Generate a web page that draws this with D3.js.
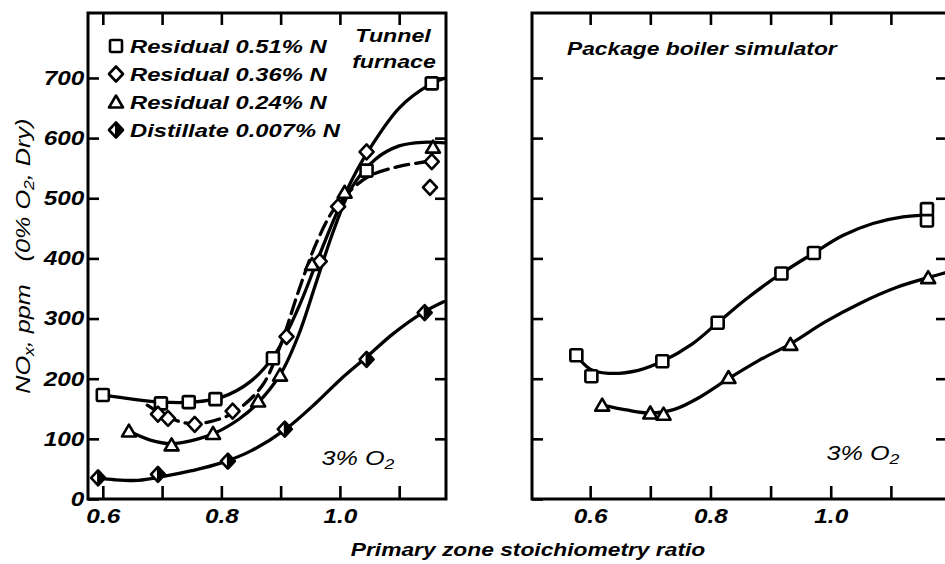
<!DOCTYPE html>
<html>
<head>
<meta charset="utf-8">
<script src="https://cdn.jsdelivr.net/npm/d3@7"></script>
<style>
  body { margin: 0; background: #fff; }
  svg text { font-family: "Liberation Sans", Arial, sans-serif; font-style: italic; fill: #000; }
</style>
</head>
<body>
<svg id="chart" width="945" height="564"></svg>
<script>
// ---- data ----
const xTicks = [0.6, 0.7, 0.8, 0.9, 1.0, 1.1];
const xTickLabels = ["0.6", "", "0.8", "", "1.0", ""];
const yTicks = [0, 100, 200, 300, 400, 500, 600, 700];

const legendLabels = ["Residual 0.51% N", "Residual 0.36% N", "Residual 0.24% N", "Distillate 0.007% N"];
const legendTypes = ["square", "diamond", "triangle", "half"];

// tunnel furnace (left) measured points
const tfSquare = [[0.60, 173], [0.698, 159], [0.745, 161], [0.79, 166], [0.887, 234], [1.045, 546], [1.155, 691]];
const tfDiamond = [[0.693, 141], [0.71, 134], [0.755, 124], [0.819, 146], [0.91, 270], [0.966, 395], [0.997, 486], [1.045, 577], [1.152, 518], [1.155, 561]];
const tfTriangle = [[0.644, 113], [0.716, 90], [0.786, 109], [0.862, 163], [0.899, 206], [0.953, 390], [1.008, 510], [1.157, 585]];
const tfDistillate = [[0.592, 35], [0.693, 41], [0.811, 63], [0.907, 116], [1.045, 232], [1.143, 310]];

// tunnel furnace fitted curves
const tfSquareFit = [[0.60, 173], [0.65, 166], [0.70, 161], [0.75, 161], [0.80, 169], [0.85, 196], [0.89, 240], [0.93, 318], [0.96, 392], [0.99, 465], [1.02, 530], [1.05, 582], [1.10, 650], [1.15, 688], [1.178, 700]];
const tfDiamondFit = [[0.675, 156], [0.71, 136], [0.75, 125], [0.80, 134], [0.83, 150], [0.87, 190], [0.90, 256], [0.93, 345], [0.96, 425], [0.99, 482], [1.02, 515], [1.05, 537], [1.10, 553], [1.155, 562]];
const tfTriangleFit = [[0.644, 113], [0.68, 98], [0.716, 92], [0.75, 97], [0.79, 110], [0.83, 133], [0.86, 158], [0.90, 208], [0.93, 272], [0.96, 360], [0.99, 448], [1.02, 518], [1.06, 565], [1.10, 587], [1.14, 593], [1.178, 592]];
const tfDistillateFit = [[0.592, 35], [0.62, 32], [0.66, 31], [0.70, 37], [0.75, 47], [0.80, 60], [0.85, 80], [0.907, 115], [0.96, 160], [1.00, 198], [1.045, 236], [1.09, 275], [1.14, 310], [1.175, 328]];

// package boiler simulator (right) measured points
const pbSquare = [[0.577, 239], [0.602, 204], [0.72, 229], [0.812, 293], [0.918, 375], [0.972, 409], [1.16, 463], [1.16, 482]];
const pbTriangle = [[0.62, 156], [0.70, 143], [0.722, 141], [0.83, 202], [0.933, 257], [1.162, 368]];

// package boiler fitted curves
const pbSquareFit = [[0.577, 239], [0.60, 216], [0.63, 209], [0.68, 214], [0.72, 229], [0.77, 258], [0.812, 293], [0.86, 333], [0.918, 375], [0.972, 409], [1.02, 438], [1.07, 458], [1.12, 469], [1.16, 472]];
const pbTriangleFit = [[0.62, 156], [0.66, 148], [0.70, 143], [0.74, 149], [0.78, 168], [0.83, 200], [0.88, 230], [0.933, 258], [0.99, 294], [1.05, 326], [1.11, 352], [1.162, 368], [1.19, 376]];

// ---- layout ----
const svg = d3.select("#chart");
const y = d3.scaleLinear().domain([0, 808]).range([499, 13]);
const xL = d3.scaleLinear().domain([0.575, 1.179]).range([88, 446]);
const xR = d3.scaleLinear().domain([0.5033, 1.1933]).range([532, 947]);

// the original type face is wide, so text is stretched sideways
function wideText(parent, px, py, str, size, anchor, weight, sx) {
  return parent.append("text")
    .attr("transform", `translate(${px},${py}) scale(${sx || 1.2},1)`)
    .attr("font-size", size)
    .attr("font-weight", weight || "bold")
    .attr("text-anchor", anchor || "start")
    .text(str);
}

function subText(parent, px, py, main, sub, rest, size, weight, rotate) {
  const t = parent.append("text")
    .attr("transform", `translate(${px},${py}) ${rotate ? "rotate(-90)" : ""} scale(1.2,1)`)
    .attr("font-size", size)
    .attr("font-weight", weight)
    .attr("text-anchor", "middle");
  t.append("tspan").text(main);
  t.append("tspan").attr("dy", 4).attr("font-size", size * 0.7).text(sub);
  if (rest) t.append("tspan").attr("dy", -4).text(rest);
  return t;
}

function marker(g, type, cx, cy) {
  const m = g.append("g").attr("transform", `translate(${cx},${cy})`);
  const st = { stroke: "#000", "stroke-width": 2.6, fill: "#fff", "stroke-linejoin": "round" };
  let el;
  if (type === "square") {
    el = m.append("rect").attr("x", -6).attr("y", -6).attr("width", 12).attr("height", 12).attr("rx", 1.5);
  } else if (type === "diamond") {
    el = m.append("path").attr("d", "M0,-7.5L7,0L0,7.5L-7,0Z");
  } else if (type === "triangle") {
    el = m.append("path").attr("d", "M0,-6.5L7,5.5L-7,5.5Z");
  } else {
    el = m.append("path").attr("d", "M0,-7.5L7,0L0,7.5L-7,0Z");
    m.append("path").attr("d", "M-1,-7L7,0L-1,7Z").attr("fill", "#000");
  }
  Object.entries(st).forEach(([k, v]) => el.attr(k, v));
  el.lower();
  return m;
}

function drawPanel(x, showYLabels) {
  const g = svg.append("g");
  const [x0, x1] = x.range();
  const [yb, yt] = y.range();

  const bottom = g.append("g").attr("transform", `translate(0,${yb})`)
    .call(d3.axisBottom(x).tickValues(xTicks).tickSize(-13).tickPadding(10)
      .tickFormat((d, i) => xTickLabels[i]));
  const top = g.append("g").attr("transform", `translate(0,${yt})`)
    .call(d3.axisTop(x).tickValues(xTicks).tickSize(-12).tickFormat(""));
  const left = g.append("g").attr("transform", `translate(${x0},0)`)
    .call(d3.axisLeft(y).tickValues(yTicks).tickSize(-11).tickPadding(3)
      .tickFormat(d => showYLabels ? d : ""));
  const right = g.append("g").attr("transform", `translate(${x1},0)`)
    .call(d3.axisRight(y).tickValues(yTicks.slice(1)).tickSize(-11).tickFormat(""));

  [bottom, top, left, right].forEach(a => {
    a.select(".domain").remove();
    a.selectAll("line").attr("stroke-width", 2.6);
    a.selectAll("text").attr("font-size", 20).attr("font-weight", "bold")
      .attr("transform", "scale(1.22,1)");
  });

  g.append("rect")
    .attr("x", x0).attr("y", yt)
    .attr("width", x1 - x0).attr("height", yb - yt)
    .attr("fill", "none").attr("stroke", "#000").attr("stroke-width", 3);
  return g;
}

function curve(g, x, pts, dashed) {
  const line = d3.line().x(d => x(d[0])).y(d => y(d[1])).curve(d3.curveCatmullRom.alpha(0.5));
  g.append("path").datum(pts)
    .attr("d", line)
    .attr("fill", "none").attr("stroke", "#000").attr("stroke-width", 3.3)
    .attr("stroke-linecap", "round")
    .attr("stroke-dasharray", dashed ? "14,7" : null);
}

function points(g, x, pts, type) {
  const mg = g.append("g");
  pts.forEach(d => marker(mg, type, x(d[0]), y(d[1])));
}

// ---- left panel: tunnel furnace ----
const left = drawPanel(xL, true);
curve(left, xL, tfSquareFit, false);
curve(left, xL, tfTriangleFit, false);
curve(left, xL, tfDiamondFit, true);
curve(left, xL, tfDistillateFit, false);
points(left, xL, tfSquare, "square");
points(left, xL, tfDiamond, "diamond");
points(left, xL, tfTriangle, "triangle");
points(left, xL, tfDistillate, "half");

const legend = left.append("g");
legendLabels.forEach((lab, i) => {
  const base = 53 + i * 28;
  marker(legend, legendTypes[i], 116, base - 7);
  wideText(legend, 130, base, lab, 19, "start", "bold", 1.25);
});

wideText(left, 393, 42, "Tunnel", 19, "middle", "bold", 1.22);
wideText(left, 394, 68, "furnace", 19, "middle", "bold", 1.22);
subText(left, 358, 465, "3% O", "2", null, 21, "normal", false);

// ---- right panel: package boiler simulator ----
const right = drawPanel(xR, false);
curve(right, xR, pbSquareFit, false);
curve(right, xR, pbTriangleFit, false);
points(right, xR, pbSquare, "square");
points(right, xR, pbTriangle, "triangle");
wideText(right, 567, 55, "Package boiler simulator", 19, "start", "bold", 1.2);
subText(right, 863, 460, "3% O", "2", null, 21, "normal", false);

// ---- axis titles ----
wideText(svg, 528, 556, "Primary zone stoichiometry ratio", 19, "middle", "bold", 1.2);
subText(svg, 30, 339, "NO", "x", ", ppm", 21, "normal", true);
subText(svg, 30, 190, "(0% O", "2", ", Dry)", 21, "normal", true);
</script>
</body>
</html>
